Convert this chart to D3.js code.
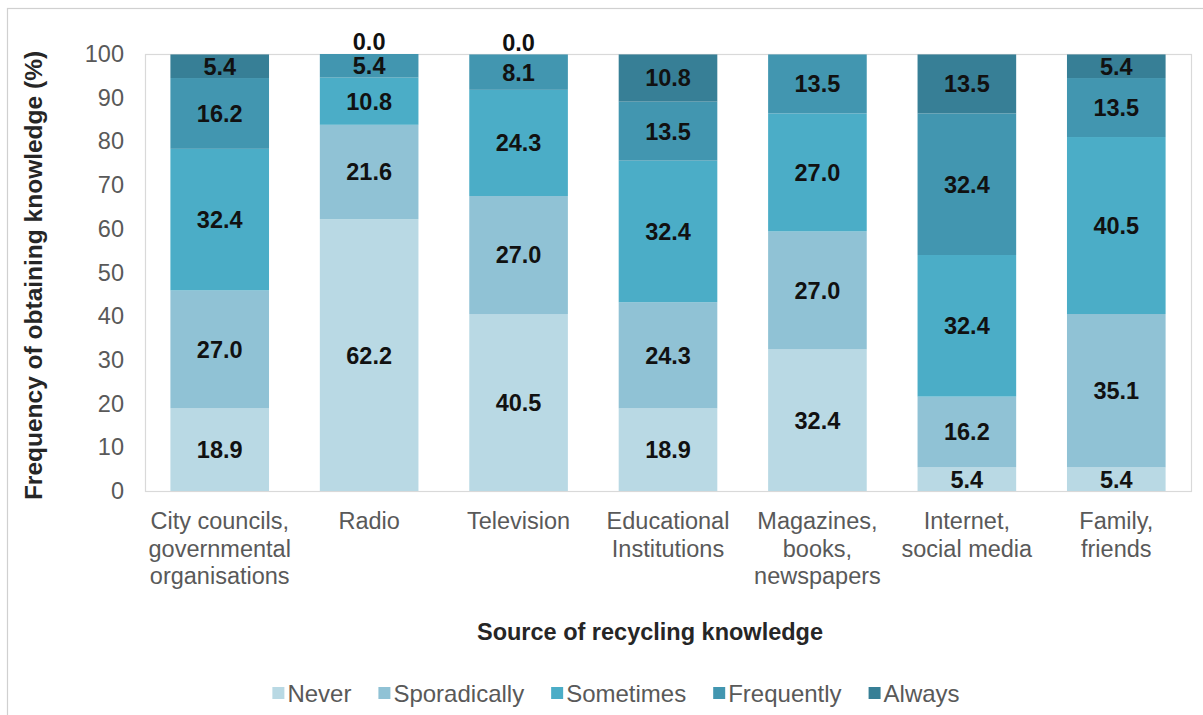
<!DOCTYPE html>
<html>
<head>
<meta charset="utf-8">
<script src="https://cdn.jsdelivr.net/npm/d3@7"></script>
<style>
  html, body { margin: 0; padding: 0; background: #fff; }
  svg { display: block; font-family: "Liberation Sans", Arial, sans-serif; }
</style>
</head>
<body>
<svg id="chart" width="1203" height="715"></svg>
<script>
// Source categories (x axis), each label split into lines
const categories = [
  ["City councils,", "governmental", "organisations"],
  ["Radio"],
  ["Television"],
  ["Educational", "Institutions"],
  ["Magazines,", "books,", "newspapers"],
  ["Internet,", "social media"],
  ["Family,", "friends"]
];

// Frequency levels (stack order, bottom to top)
const seriesNames = ["Never", "Sporadically", "Sometimes", "Frequently", "Always"];

// Percentages per level, one entry per source; null = not reported
const never        = [18.9, 62.2, 40.5, 18.9, 32.4,  5.4,  5.4];
const sporadically = [27.0, 21.6, 27.0, 24.3, 27.0, 16.2, 35.1];
const sometimes    = [32.4, 10.8, 24.3, 32.4, 27.0, 32.4, 40.5];
const frequently   = [16.2,  5.4,  8.1, 13.5, 13.5, 32.4, 13.5];
const always       = [ 5.4,  0.0,  0.0, 10.8, null, 13.5,  5.4];

const yTicks = [0, 10, 20, 30, 40, 50, 60, 70, 80, 90, 100];

const colors = ["#b9d9e4", "#90c2d5", "#4badc7", "#4296b0", "#377f96"];

const seriesValues = [never, sporadically, sometimes, frequently, always];
const keys = categories.map(c => c.join(" "));

// Rows for the stack layout
const rows = keys.map((k, i) => {
  const r = { key: k };
  seriesNames.forEach((s, j) => { r[s] = seriesValues[j][i] == null ? 0 : seriesValues[j][i]; });
  return r;
});

const svg = d3.select("#chart");
const plot = { left: 145, right: 1191, top: 54, bottom: 491 };
const fs = 23.5;

// Outer frame
svg.append("rect")
  .attr("x", 7.5).attr("y", 8.5)
  .attr("width", 1210).attr("height", 720)
  .attr("fill", "none").attr("stroke", "#d0d0d0").attr("stroke-width", 1.2);

const x = d3.scaleBand()
  .domain(keys)
  .range([plot.left, plot.right])
  .paddingInner(0.34)
  .paddingOuter(0.17);

const y = d3.scaleLinear()
  .domain([0, 100])
  .range([plot.bottom, plot.top]);

// Plot area border
svg.append("rect")
  .attr("x", plot.left + 0.5).attr("y", plot.top + 0.5)
  .attr("width", plot.right - plot.left).attr("height", plot.bottom - plot.top)
  .attr("fill", "none").attr("stroke", "#d9d9d9").attr("stroke-width", 1.2);

const stack = d3.stack().keys(seriesNames);
const stacked = stack(rows);

// Bars
const layers = svg.append("g").selectAll("g")
  .data(stacked)
  .join("g")
  .attr("fill", (d, i) => colors[i]);

layers.selectAll("rect")
  .data(d => d)
  .join("rect")
  .attr("x", d => x(d.data.key))
  .attr("width", x.bandwidth())
  .attr("y", d => y(d[1]))
  .attr("height", d => y(d[0]) - y(d[1]));

// Value labels
const labels = svg.append("g")
  .attr("font-size", fs)
  .attr("font-weight", "bold")
  .attr("fill", "#111")
  .attr("text-anchor", "middle");

stacked.forEach((layer, j) => {
  layer.forEach((d, i) => {
    const v = seriesValues[j][i];
    if (v == null) return;
    const cx = x(d.data.key) + x.bandwidth() / 2;
    const cy = v === 0 ? y(d[1]) - 12 : (y(d[0]) + y(d[1])) / 2;
    labels.append("text")
      .attr("x", cx)
      .attr("y", cy)
      .attr("dy", "0.36em")
      .text(v.toFixed(1));
  });
});

// Y axis (labels only)
const yAxis = svg.append("g")
  .attr("transform", `translate(${plot.left},0)`)
  .call(d3.axisLeft(y).tickValues(yTicks).tickSize(0).tickPadding(21));
yAxis.select(".domain").remove();
yAxis.selectAll("text")
  .attr("font-size", fs)
  .attr("font-family", "Liberation Sans, Arial, sans-serif")
  .attr("fill", "#595959");

// X axis category labels
const xAxis = svg.append("g");
categories.forEach((lines, i) => {
  const cx = x(keys[i]) + x.bandwidth() / 2;
  const t = xAxis.append("text")
    .attr("x", cx)
    .attr("y", 521)
    .attr("text-anchor", "middle")
    .attr("font-size", fs)
    .attr("fill", "#595959");
  lines.forEach((ln, k) => {
    t.append("tspan")
      .attr("x", cx)
      .attr("y", 521 + k * 27.5)
      .attr("dy", "0.36em")
      .text(ln);
  });
});

// Axis titles
svg.append("text")
  .attr("x", 650).attr("y", 632).attr("dy", "0.36em")
  .attr("text-anchor", "middle")
  .attr("font-size", fs).attr("font-weight", "bold")
  .attr("fill", "#262626")
  .text("Source of recycling knowledge");

svg.append("text")
  .attr("transform", `translate(33,${(plot.top + plot.bottom) / 2 + 3}) rotate(-90)`)
  .attr("dy", "0.36em")
  .attr("text-anchor", "middle")
  .attr("font-size", 24.5).attr("font-weight", "bold")
  .attr("fill", "#262626")
  .text("Frequency of obtaining knowledge (%)");

// Legend
const legend = svg.append("g").attr("font-size", 24).attr("fill", "#595959");
const items = [];
let cursor = 0;
seriesNames.forEach((name, i) => {
  const g = legend.append("g");
  g.append("rect").attr("x", 0).attr("y", -6).attr("width", 12).attr("height", 12).attr("fill", colors[i]);
  const t = g.append("text").attr("x", 15).attr("dy", "0.36em").text(name);
  const w = 15 + t.node().getComputedTextLength();
  items.push({ g, offset: cursor });
  cursor += w + 27;
});
const totalW = cursor - 27;
const legendStart = 616 - totalW / 2;
items.forEach(it => it.g.attr("transform", `translate(${legendStart + it.offset},693)`));
</script>
</body>
</html>
